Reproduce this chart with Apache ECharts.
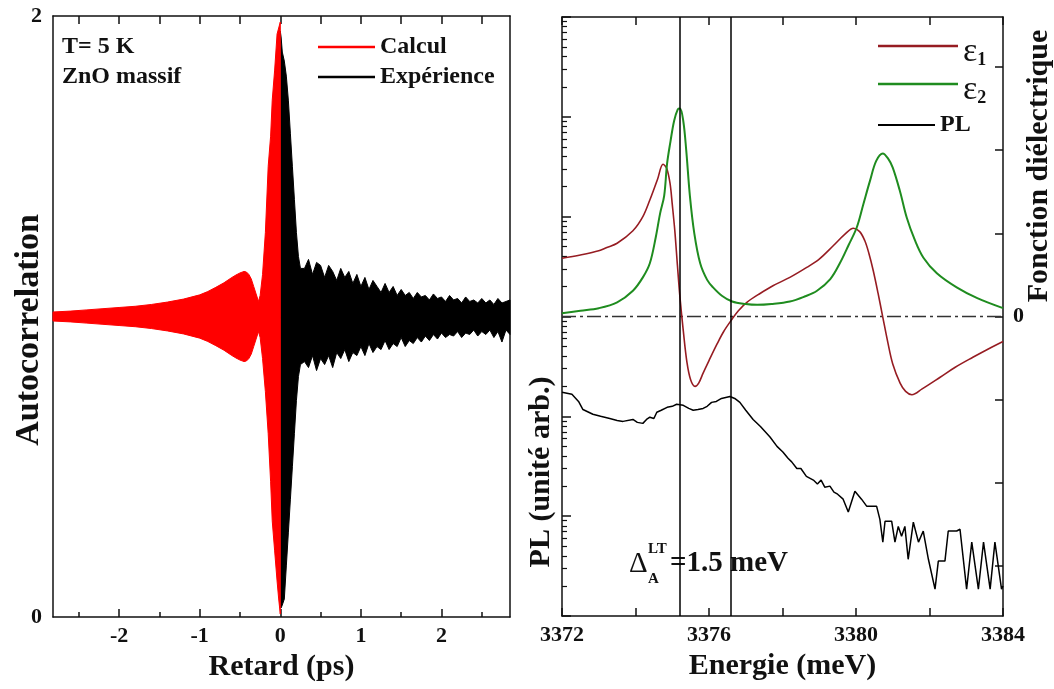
<!DOCTYPE html>
<html><head><meta charset="utf-8">
<script src="https://cdn.jsdelivr.net/npm/echarts@6/dist/echarts.min.js"></script>
<style>html,body{margin:0;padding:0;background:#fff}#c{width:1054px;height:689px}</style>
</head><body><div id="c"></div>
<script>
// ---------- Left panel: autocorrelation envelopes ----------
const calcT  = [-2.82,-2.6,-2.4,-2.2,-2.0,-1.8,-1.6,-1.4,-1.2,-1.0,-0.9,-0.8,-0.7,-0.6,-0.55,-0.5,-0.45,-0.42,-0.39,-0.36,-0.33,-0.30,-0.27,-0.25,-0.22,-0.185,-0.15,-0.12,-0.10,-0.07,-0.04,-0.02,0];
const calcHi = [1.015,1.018,1.022,1.026,1.03,1.034,1.04,1.048,1.058,1.072,1.083,1.097,1.112,1.13,1.138,1.145,1.15,1.148,1.14,1.125,1.1,1.075,1.05,1.07,1.14,1.28,1.5,1.6,1.72,1.82,1.94,1.96,1.98];
const calcLo = [0.985,0.982,0.978,0.974,0.97,0.966,0.96,0.952,0.942,0.928,0.917,0.903,0.888,0.87,0.862,0.855,0.85,0.852,0.86,0.875,0.9,0.925,0.95,0.93,0.86,0.75,0.61,0.45,0.32,0.22,0.12,0.06,0.01];

const expT  = [0,0.01,0.025,0.05,0.075,0.10,0.125,0.15,0.175,0.20,0.225,0.25,
  0.30,0.35,0.40,0.45,0.50,0.55,0.60,0.65,0.70,0.75,0.80,0.85,0.90,0.95,1.00,1.05,1.10,1.15,1.20,1.25,1.30,1.35,1.40,1.45,1.50,1.55,1.60,1.65,1.70,1.75,1.80,1.85,1.90,1.95,2.00,2.05,2.10,2.15,2.20,2.25,2.30,2.35,2.40,2.45,2.50,2.55,2.60,2.65,2.70,2.75,2.80,2.85];
const expHi = [1.95,1.93,1.88,1.85,1.80,1.72,1.61,1.50,1.39,1.28,1.20,1.16,
  1.16,1.19,1.14,1.18,1.17,1.13,1.17,1.15,1.12,1.16,1.13,1.15,1.11,1.14,1.10,1.13,1.09,1.12,1.10,1.08,1.11,1.08,1.10,1.07,1.09,1.07,1.08,1.06,1.08,1.065,1.07,1.055,1.075,1.06,1.065,1.05,1.07,1.055,1.06,1.045,1.065,1.05,1.055,1.045,1.06,1.045,1.055,1.04,1.06,1.045,1.05,1.055];
const expLo = [0.03,0.03,0.04,0.06,0.17,0.28,0.39,0.50,0.61,0.72,0.80,0.84,
  0.85,0.83,0.87,0.82,0.86,0.84,0.87,0.83,0.88,0.86,0.89,0.85,0.88,0.87,0.90,0.87,0.91,0.88,0.90,0.89,0.92,0.89,0.91,0.90,0.93,0.90,0.92,0.91,0.93,0.915,0.935,0.92,0.94,0.925,0.945,0.93,0.94,0.935,0.95,0.93,0.945,0.94,0.955,0.935,0.95,0.94,0.955,0.93,0.95,0.915,0.955,0.94];

// ---------- Right panel: dielectric function ----------
const eps1E = [3372.0,3372.5,3373.0,3373.22,3373.5,3373.93,3374.2,3374.39,3374.6,3374.75,3374.85,3374.94,3375.0,3375.07,3375.14,3375.21,3375.3,3375.4,3375.5,3375.62,3375.72,3375.84,3376.0,3376.22,3376.4,3376.63,3376.8,3377.03,3377.4,3377.74,3378.2,3378.66,3379.0,3379.38,3379.7,3379.93,3380.1,3380.24,3380.35,3380.47,3380.6,3380.73,3380.87,3381.0,3381.2,3381.35,3381.52,3381.8,3382.29,3382.7,3383.18,3383.6,3384.0];
const eps1V = [0.70,0.74,0.79,0.83,0.88,1.03,1.20,1.40,1.65,1.83,1.78,1.60,1.35,1.03,0.62,0.23,-0.17,-0.55,-0.76,-0.84,-0.80,-0.68,-0.53,-0.33,-0.18,-0.03,0.07,0.17,0.28,0.37,0.47,0.59,0.69,0.85,0.99,1.06,1.02,0.91,0.76,0.55,0.28,-0.01,-0.32,-0.57,-0.80,-0.90,-0.94,-0.87,-0.73,-0.61,-0.49,-0.39,-0.30];
const eps2E = [3372.0,3372.5,3373.0,3373.5,3373.93,3374.2,3374.39,3374.55,3374.67,3374.78,3374.86,3374.95,3375.05,3375.15,3375.21,3375.3,3375.38,3375.48,3375.6,3375.76,3375.95,3376.11,3376.35,3376.63,3377.0,3377.31,3377.7,3378.2,3378.6,3378.94,3379.3,3379.56,3379.8,3380.02,3380.2,3380.38,3380.55,3380.73,3380.87,3381.0,3381.2,3381.38,3381.6,3381.83,3382.2,3382.74,3383.3,3384.0];
const eps2V = [0.04,0.07,0.10,0.17,0.31,0.47,0.64,0.95,1.24,1.45,1.84,2.10,2.35,2.49,2.50,2.35,2.00,1.45,1.00,0.64,0.44,0.35,0.25,0.18,0.15,0.14,0.15,0.18,0.24,0.31,0.45,0.64,0.86,1.07,1.35,1.63,1.87,1.96,1.90,1.79,1.50,1.19,0.92,0.71,0.52,0.35,0.22,0.10];
const epsZeroLine = [[3372, 0], [3384, 0]];

// ---------- Right panel: PL spectrum (arb. units, log axis) ----------
const plE = [3372.0,3372.27,3372.45,3372.57,3372.84,3373.05,3373.3,3373.5,3373.66,3373.93,3374.05,3374.2,3374.3,3374.39,3374.5,3374.58,3374.7,3374.86,3375.0,3375.12,3375.3,3375.45,3375.57,3375.7,3375.84,3375.95,3376.07,3376.2,3376.34,3376.57,3376.7,3376.84,3377.0,3377.2,3377.4,3377.66,3377.85,3378.01,3378.15,3378.25,3378.39,3378.5,3378.65,3378.84,3378.95,3379.05,3379.15,3379.29,3379.4,3379.5,3379.65,3379.79,3379.97,3380.15,3380.29,3380.38,3380.56,3380.65,3380.73,3380.79,3380.97,3381.06,3381.15,3381.24,3381.33,3381.42,3381.56,3381.7,3381.83,3381.97,3382.15,3382.24,3382.42,3382.51,3382.62,3382.74,3382.83,3383.01,3383.15,3383.33,3383.47,3383.65,3383.78,3383.96,3384.0];
const plV = [174,166,141,117,105,100,95,91,89,93,87,85,93,98,95,110,115,123,126,132,129,120,115,117,120,126,138,141,151,158,151,138,115,93,79,62,50,44,38,35,30,30,25,23,21,23,19.5,20,17.4,16.6,14.8,11.0,17.8,14.8,12.6,12.6,12.6,9.3,5.5,8.9,8.9,5.5,7.9,6.3,7.9,3.7,8.7,5.5,7.1,3.7,1.86,3.55,3.55,7.1,7.1,7.1,7.4,1.86,5.5,1.86,5.5,1.86,5.5,1.86,2.0];
const plLines = [3375.2, 3376.6];

// ---------- Ticks / labels ----------
const retardTicks = [-2,-1,0,1,2];
const retardMinorTicks = [-2.5,-1.5,-0.5,0.5,1.5,2.5];
const retardTopTicks = [-2.5,-2,-1.5,-1,-0.5,0,0.5,1,1.5,2,2.5];
const autocorrLabels = [0,2];
const energyTicks = [3372,3374,3376,3378,3380,3382,3384];
const energyLabels = [3372,3376,3380,3384];
const plMajorTicks = [1,10,100,1000,10000,100000,1000000];
const plMinorTicks = [];
for (const d of [1,10,100,1000,10000,100000]) for (const k of [2,3,4,5,6,7,8,9]) plMinorTicks.push(k*d);
const epsTicks = [-3,-2,-1,0,1,2,3];
const epsLabels = [0];

const FONT = '"Liberation Serif","Times New Roman",serif';
const BLACK = '#111';
const C_RED = '#ff0000', C_EPS1 = '#961c22', C_EPS2 = '#1f8c1f';

function band(name, T, HI, LO, color, z) {
  const rows = T.map((t, i) => [t, HI[i], LO[i]]);
  return {
    type: 'custom', name, xAxisIndex: 0, yAxisIndex: 0, z,
    itemStyle: { color }, data: rows, encode: { x: 0, y: [1, 2] },
    renderItem(params, api) {
      if (params.dataIndex !== 0) return null;
      const pts = [];
      for (let i = 0; i < rows.length; i++) pts.push(api.coord([rows[i][0], rows[i][1]]));
      for (let i = rows.length - 1; i >= 0; i--) pts.push(api.coord([rows[i][0], rows[i][2]]));
      return { type: 'polygon', shape: { points: pts }, style: { fill: color, stroke: color, lineWidth: 1 } };
    }
  };
}
const axLine = { show: true, onZero: false, lineStyle: { color: BLACK, width: 1.5 } };
const noLine = { show: false, onZero: false };
const lbl = { fontFamily: FONT, fontWeight: 'bold', fontSize: 22, color: BLACK };
const noSplit = { show: false };
const tick = (len, vals, w) => ({ inside: true, length: len, customValues: vals, lineStyle: { color: BLACK, width: w || 1.5 } });

const option = {
  animation: false,
  backgroundColor: '#fff',
  grid: [
    { left: 53, top: 16, width: 457, height: 601 },
    { left: 562, top: 17, width: 441, height: 599 },
    { left: 53, top: 16, width: 457, height: 601 },
    { left: 562, top: 17, width: 441, height: 599 }
  ],
  xAxis: [
    { gridIndex: 0, type: 'value', min: -2.82, max: 2.85, position: 'bottom', axisLine: axLine,
      axisTick: tick(8, retardTicks),
      axisLabel: Object.assign({ customValues: retardTicks, margin: 8 }, lbl), splitLine: noSplit,
      name: 'Retard (ps)', nameLocation: 'middle', nameGap: 30,
      nameTextStyle: { fontFamily: FONT, fontWeight: 'bold', fontSize: 30, color: BLACK } },
    { gridIndex: 0, type: 'value', min: -2.82, max: 2.85, position: 'top', axisLine: axLine,
      axisTick: tick(8, retardTopTicks), axisLabel: { show: false }, splitLine: noSplit },
    { gridIndex: 1, type: 'value', min: 3372, max: 3384, position: 'bottom', axisLine: axLine,
      axisTick: tick(8, energyTicks),
      axisLabel: Object.assign({ customValues: energyLabels, margin: 8, formatter: v => String(v) }, lbl), splitLine: noSplit,
      name: 'Energie (meV)', nameLocation: 'middle', nameGap: 30,
      nameTextStyle: { fontFamily: FONT, fontWeight: 'bold', fontSize: 30, color: BLACK } },
    { gridIndex: 1, type: 'value', min: 3372, max: 3384, position: 'top', axisLine: axLine,
      axisTick: tick(8, energyTicks), axisLabel: { show: false }, splitLine: noSplit },
    { gridIndex: 2, type: 'value', min: -2.82, max: 2.85, position: 'bottom', axisLine: noLine,
      axisTick: tick(5, retardMinorTicks), axisLabel: { show: false }, splitLine: noSplit },
    { gridIndex: 3, type: 'value', min: 3372, max: 3384, show: false }
  ],
  yAxis: [
    { gridIndex: 0, type: 'value', min: 0, max: 2, position: 'left', axisLine: axLine,
      axisTick: { show: false }, axisLabel: Object.assign({ customValues: autocorrLabels, margin: 11 }, lbl), splitLine: noSplit },
    { gridIndex: 0, type: 'value', min: 0, max: 2, position: 'right', axisLine: axLine,
      axisTick: { show: false }, axisLabel: { show: false }, splitLine: noSplit },
    { gridIndex: 1, type: 'log', logBase: 10, min: 1, max: 1000000, position: 'left', axisLine: axLine,
      axisTick: tick(9, plMajorTicks), axisLabel: { show: false }, splitLine: noSplit },
    { gridIndex: 1, type: 'value', min: -3.6, max: 3.6, position: 'right', axisLine: axLine,
      axisTick: tick(8, epsTicks),
      axisLabel: Object.assign({ customValues: epsLabels, margin: 10 }, lbl), splitLine: noSplit },
    { gridIndex: 2, type: 'value', min: 0, max: 2, show: false },
    { gridIndex: 3, type: 'log', logBase: 10, min: 1, max: 1000000, position: 'left', axisLine: noLine,
      axisTick: tick(5, plMinorTicks, 1.2), axisLabel: { show: false }, splitLine: noSplit }
  ],
  legend: [
    { data: ['Calcul', 'Expérience'], orient: 'vertical', left: 313, top: 30, icon: 'rect',
      itemWidth: 57, itemHeight: 2.5, itemGap: 6, selectedMode: false,
      textStyle: { fontFamily: FONT, fontWeight: 'bold', fontSize: 24, color: BLACK } },
    { data: ['ε1', 'ε2'], orient: 'vertical', left: 873, top: 30, icon: 'rect',
      itemWidth: 80, itemHeight: 2.5, itemGap: 4, selectedMode: false,
      formatter: n => '{e|ε}{s|' + n.slice(1) + '}',
      textStyle: { color: BLACK, rich: {
        e: { fontFamily: FONT, fontSize: 34, color: BLACK, padding: [12, 0, 0, 0] },
        s: { fontFamily: FONT, fontWeight: 'bold', fontSize: 18, color: BLACK, verticalAlign: 'bottom' } } } },
    { data: ['PL'], orient: 'vertical', left: 873, top: 108, icon: 'rect',
      itemWidth: 57, itemHeight: 1.8, selectedMode: false,
      textStyle: { fontFamily: FONT, fontWeight: 'bold', fontSize: 24, color: BLACK } }
  ],
  graphic: [
    { type: 'text', left: 62, top: 35, style: { text: 'T= 5 K', font: 'bold 24px ' + FONT, fill: BLACK } },
    { type: 'text', left: 62, top: 65, style: { text: 'ZnO massif', font: 'bold 24px ' + FONT, fill: BLACK } },
    { type: 'text', x: 29, y: 330, rotation: Math.PI / 2,
      style: { text: 'Autocorrelation', font: 'bold 34px ' + FONT, fill: BLACK, align: 'center', verticalAlign: 'middle' } },
    { type: 'text', x: 541, y: 472, rotation: Math.PI / 2,
      style: { text: 'PL (unité arb.)', font: 'bold 30px ' + FONT, fill: BLACK, align: 'center', verticalAlign: 'middle' } },
    { type: 'text', x: 1039, y: 166, rotation: Math.PI / 2,
      style: { text: 'Fonction diélectrique', font: 'bold 30px ' + FONT, fill: BLACK, align: 'center', verticalAlign: 'middle' } },
    { type: 'text', x: 629, y: 564, style: { text: 'Δ', font: '29px ' + FONT, fill: BLACK, verticalAlign: 'middle' } },
    { type: 'text', x: 648, y: 549, style: { text: 'LT', font: 'bold 15px ' + FONT, fill: BLACK, verticalAlign: 'middle' } },
    { type: 'text', x: 648, y: 579, style: { text: 'A', font: 'bold 15px ' + FONT, fill: BLACK, verticalAlign: 'middle' } },
    { type: 'text', x: 670, y: 564, style: { text: '=1.5 meV', font: 'bold 29px ' + FONT, fill: BLACK, verticalAlign: 'middle' } }
  ],
  series: [
    band('Expérience', expT, expHi, expLo, '#000000', 2),
    band('Calcul', calcT, calcHi, calcLo, C_RED, 3),
    { type: 'line', name: 'zero', xAxisIndex: 2, yAxisIndex: 3, data: epsZeroLine, showSymbol: false, silent: true,
      lineStyle: { color: '#333', width: 1.5, type: [14, 4, 3, 4] }, z: 2 },
    { type: 'line', name: 'ε1', xAxisIndex: 2, yAxisIndex: 3, data: eps1E.map((e, i) => [e, eps1V[i]]),
      showSymbol: false, smooth: 0.35, color: C_EPS1, lineStyle: { color: C_EPS1, width: 1.6 }, z: 3 },
    { type: 'line', name: 'ε2', xAxisIndex: 2, yAxisIndex: 3, data: eps2E.map((e, i) => [e, eps2V[i]]),
      showSymbol: false, smooth: 0.35, color: C_EPS2, lineStyle: { color: C_EPS2, width: 2 }, z: 3 },
    { type: 'line', name: 'PL', xAxisIndex: 2, yAxisIndex: 2, data: plE.map((e, i) => [e, plV[i]]),
      showSymbol: false, color: '#000', lineStyle: { color: '#000', width: 1.5 }, z: 4,
      markLine: { silent: true, symbol: ['none', 'none'], label: { show: false },
        lineStyle: { color: '#000', width: 1.5, type: 'solid' }, data: plLines.map(x => ({ xAxis: x })) } }
  ]
};
echarts.init(document.getElementById('c')).setOption(option);
</script></body></html>
